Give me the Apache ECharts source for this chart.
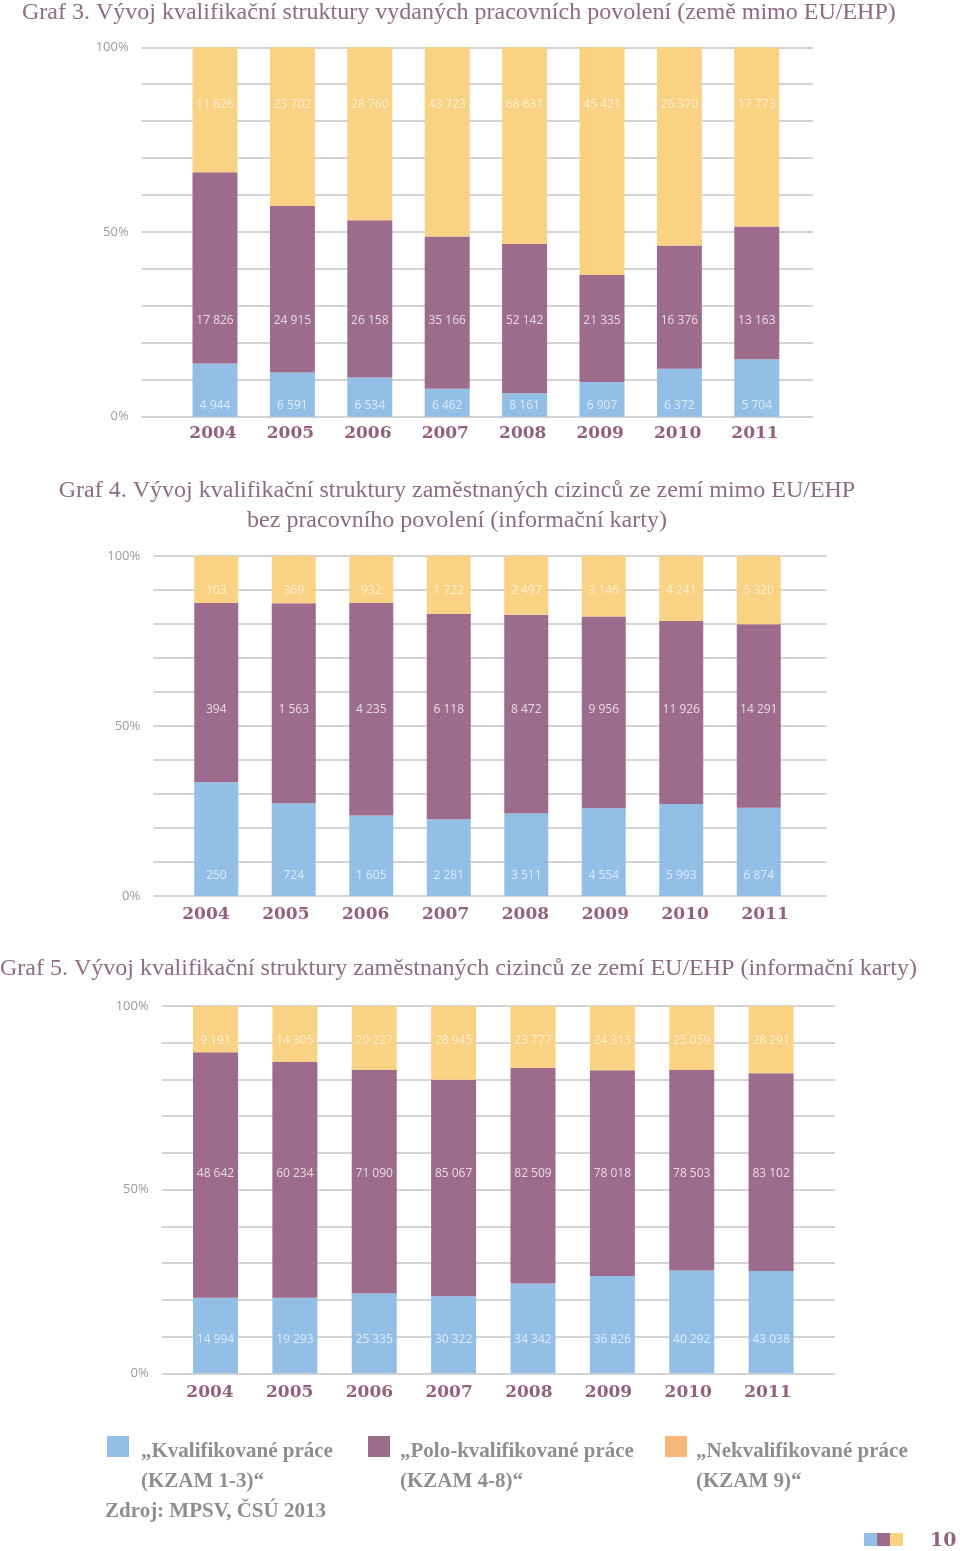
<!DOCTYPE html>
<html><head><meta charset="utf-8">
<script src="https://cdn.jsdelivr.net/npm/echarts@6/dist/echarts.min.js"></script>
<style>html,body{margin:0;padding:0;background:#fff}#c{width:960px;height:1551px}</style>
</head><body><div id="c"></div>
<script>
// ---- data ----
const years = ['2004','2005','2006','2007','2008','2009','2010','2011'];
const yTickLabels = [0, 50, 100];
// Graf 3
const g3Skilled   = [4944, 6591, 6534, 6462, 8161, 6907, 6372, 5704];
const g3Semi      = [17826, 24915, 26158, 35166, 52142, 21335, 16376, 13163];
const g3Unskilled = [11626, 23702, 28760, 43723, 68631, 45421, 26370, 17773];
// Graf 4
const g4Skilled   = [250, 724, 1605, 2281, 3511, 4554, 5993, 6874];
const g4Semi      = [394, 1563, 4235, 6118, 8472, 9956, 11926, 14291];
const g4Unskilled = [103, 369, 932, 1722, 2497, 3146, 4241, 5320];
// Graf 5
const g5Skilled   = [14994, 19293, 25335, 30322, 34342, 36826, 40292, 43038];
const g5Semi      = [48642, 60234, 71090, 85067, 82509, 78018, 78503, 83102];
const g5Unskilled = [9191, 14305, 20227, 28945, 23777, 24313, 25059, 28291];

const seriesNames = ['Kvalifikované práce (KZAM 1-3)', 'Polo-kvalifikované práce (KZAM 4-8)', 'Nekvalifikované práce (KZAM 9)'];
const titles = [
  'Graf 3. Vývoj kvalifikační struktury vydaných pracovních povolení (země mimo EU/EHP)',
  'Graf 4. Vývoj kvalifikační struktury zaměstnaných cizinců ze zemí mimo EU/EHP\nbez pracovního povolení (informační karty)',
  'Graf 5. Vývoj kvalifikační struktury zaměstnaných cizinců ze zemí EU/EHP (informační karty)'
];

// ---- styles / layout ----
const C_BLUE = '#93bfe7', C_PURPLE = '#9d6b8b', C_YELLOW = '#f9d283', C_ORANGE = '#f8b878';
const C_TITLE = '#8d6b83', C_YEAR = '#93617f', C_GRID = '#c6c6c6', C_AXISTXT = '#9a9a9a', C_LEG = '#8e8e8e';
const charts = [
  {data: [g3Skilled, g3Semi, g3Unskilled], lineLeft: 141.7, lineWidth: 671.3, top: 47.3, height: 369.4,
   barLeft: 176.3, barSpan: 619.2, barW: 45, yearLeft: 174.3, yearSpan: 619.4, yearMargin: 8, labelPos: [3, 26, 84.6]},
  {data: [g4Skilled, g4Semi, g4Unskilled], lineLeft: 153.3, lineWidth: 673.4, top: 556, height: 340,
   barLeft: 177.5, barSpan: 620, barW: 44, yearLeft: 166, yearSpan: 639, yearMargin: 10, labelPos: [5.9, 54.7, 89.7]},
  {data: [g5Skilled, g5Semi, g5Unskilled], lineLeft: 161.7, lineWidth: 673.3, top: 1006, height: 367.3,
   barLeft: 175.8, barSpan: 635, barW: 45, yearLeft: 170.1, yearSpan: 637.7, yearMargin: 11, labelPos: [9.1, 54.4, 90.5]}
];
const colors = [C_BLUE, C_PURPLE, C_YELLOW];
const labelColors = ['rgba(255,255,255,0.85)', 'rgba(255,255,255,0.95)', 'rgba(255,255,255,0.78)'];
const fmt = v => String(v).replace(/\B(?=(\d{3})+(?!\d))/g, ' ');

const grid = [], xAxis = [], yAxis = [], series = [];
charts.forEach((ch, ci) => {
  const base = grid.length;
  grid.push({left: ch.lineLeft, width: ch.lineWidth, top: ch.top, height: ch.height});
  grid.push({left: ch.barLeft, width: ch.barSpan, top: ch.top, height: ch.height});
  grid.push({left: ch.yearLeft, width: ch.yearSpan, top: ch.top, height: ch.height});
  xAxis.push({gridIndex: base, type: 'category', data: years, show: false});
  xAxis.push({gridIndex: base + 1, type: 'category', data: years, show: false});
  xAxis.push({gridIndex: base + 2, type: 'category', data: years,
    axisLine: {show: false}, axisTick: {show: false},
    axisLabel: {margin: ch.yearMargin, color: C_YEAR, fontFamily: 'DejaVu Serif', fontWeight: 'bold', fontSize: 17}});
  yAxis.push({gridIndex: base, type: 'value', min: 0, max: 100, interval: 10,
    axisLine: {show: false}, axisTick: {show: false},
    axisLabel: {margin: 13, color: C_AXISTXT, fontFamily: 'Open Sans', fontSize: 13,
      formatter: v => yTickLabels.indexOf(v) >= 0 ? v + '%' : ''},
    splitLine: {show: true, lineStyle: {color: C_GRID, width: 1.6}}});
  yAxis.push({gridIndex: base + 1, type: 'value', min: 0, max: 100, show: false});
  yAxis.push({gridIndex: base + 2, type: 'value', min: 0, max: 100, show: false});
  const totals = years.map((_, i) => ch.data[0][i] + ch.data[1][i] + ch.data[2][i]);
  ch.data.forEach((arr, k) => {
    series.push({
      type: 'bar', name: seriesNames[k], stack: 'g' + ci, xAxisIndex: base + 1, yAxisIndex: base + 1,
      barWidth: ch.barW, silent: true, itemStyle: {color: colors[k]},
      data: arr.map((v, i) => v / totals[i] * 100)
    });
  });
  ch.data.forEach((arr, k) => {
    series.push({
      type: 'scatter', xAxisIndex: base + 1, yAxisIndex: base + 1, symbolSize: 0, silent: true, z: 10,
      data: arr.map((v, i) => [i, ch.labelPos[k], v]),
      label: {show: true, position: 'inside', color: labelColors[k], fontFamily: 'Open Sans', fontSize: 12,
        formatter: p => fmt(p.value[2])}
    });
  });
});

const titleStyle = {color: C_TITLE, fontFamily: 'Liberation Serif', fontWeight: 'normal', fontSize: 24};
const title = [
  {text: titles[0], left: 17, top: -4, textStyle: titleStyle},
  {text: titles[1], left: 452, top: 471, textAlign: 'center', textStyle: Object.assign({}, titleStyle, {lineHeight: 30})},
  {text: titles[2], left: -5, top: 952, textStyle: titleStyle}
];

const legTxt = {fill: C_LEG, font: 'bold 21px "Liberation Serif"'};
const legendItems = [
  {x: 107, tx: 141, color: C_BLUE, l1: '„Kvalifikované práce', l2: '(KZAM 1-3)“'},
  {x: 368, tx: 400, color: C_PURPLE, l1: '„Polo-kvalifikované práce', l2: '(KZAM 4-8)“'},
  {x: 665, tx: 696, color: C_ORANGE, l1: '„Nekvalifikované práce', l2: '(KZAM 9)“'}
];
const graphic = [];
legendItems.forEach(it => {
  graphic.push({type: 'rect', left: it.x, top: 1436, shape: {width: 22, height: 21}, style: {fill: it.color}});
  graphic.push({type: 'text', left: it.tx, top: 1441, style: Object.assign({text: it.l1}, legTxt)});
  graphic.push({type: 'text', left: it.tx, top: 1471, style: Object.assign({text: it.l2}, legTxt)});
});
graphic.push({type: 'text', left: 105, top: 1501, style: Object.assign({text: 'Zdroj: MPSV, ČSÚ 2013'}, legTxt)});
[C_BLUE, C_PURPLE, C_YELLOW].forEach((c, i) => {
  graphic.push({type: 'rect', left: 864 + i * 13, top: 1533, shape: {width: 13, height: 13}, style: {fill: c}});
});
graphic.push({type: 'text', left: 930, top: 1532, style: {text: '10', fill: C_YEAR, font: 'bold 19px "DejaVu Serif"'}});

const chart = echarts.init(document.getElementById('c'), null, {renderer: 'canvas'});
chart.setOption({
  animation: false, backgroundColor: '#fff',
  title, grid, xAxis, yAxis, series, graphic
});
</script></body></html>
